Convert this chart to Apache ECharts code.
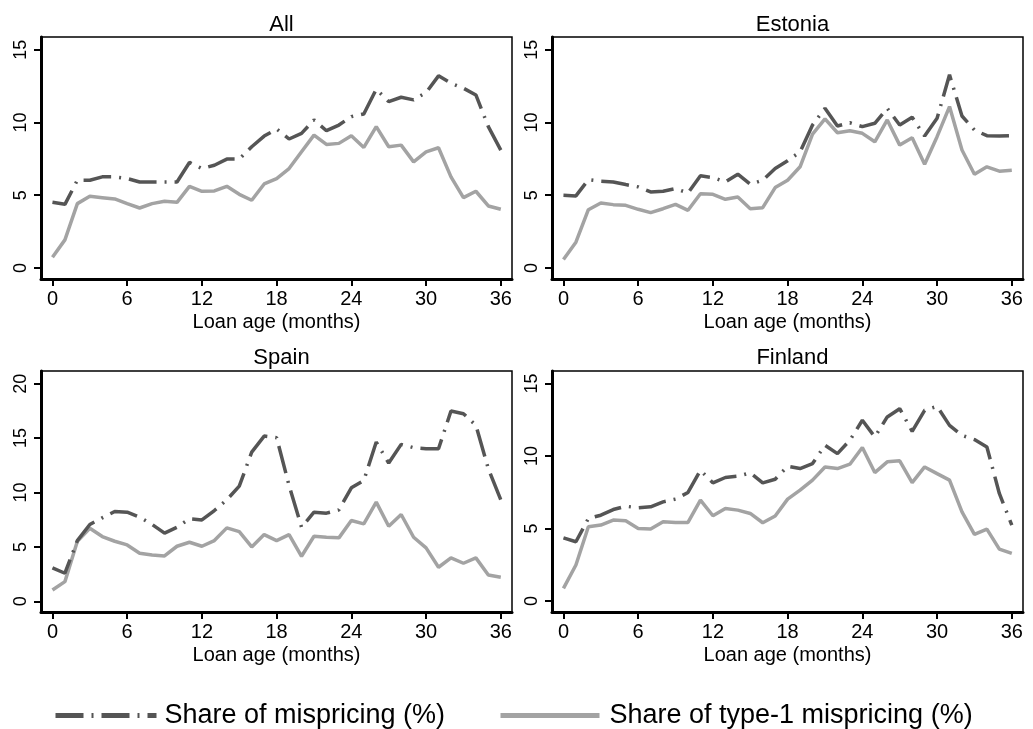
<!DOCTYPE html>
<html>
<head>
<meta charset="utf-8">
<script src="https://cdn.jsdelivr.net/npm/echarts@6/dist/echarts.min.js"></script>
<style>html,body{margin:0;padding:0;background:#fff}#c{width:1033px;height:729px}</style>
</head>
<body>
<div id="c"></div>
<script>
// Loan age in months
const months = [0,1,2,3,4,5,6,7,8,9,10,11,12,13,14,15,16,17,18,19,20,21,22,23,24,25,26,27,28,29,30,31,32,33,34,35,36];
// Panel titles
const panelTitles = ['All', 'Estonia', 'Spain', 'Finland'];
// Share of mispricing (%)
const allMis = [4.51,4.37,6.03,6.03,6.26,6.26,6.14,5.91,5.91,5.91,5.91,7.25,6.83,7.06,7.48,7.48,8.33,9.06,9.55,8.86,9.25,10.17,9.43,9.82,10.4,10.58,12.28,11.43,11.73,11.55,12.05,13.2,12.7,12.35,11.89,9.71,8.1];
const estMis = [4.99,4.95,6.07,5.96,5.91,5.73,5.57,5.22,5.27,5.45,5.15,6.33,6.21,5.91,6.44,5.75,6.03,6.83,7.36,7.98,9.82,10.97,9.75,9.98,9.71,9.94,10.97,9.82,10.35,9.06,10.28,13.27,10.44,9.48,9.09,9.06,9.09];
const espMis = [3.07,2.58,5.58,7.06,7.67,8.25,8.19,7.73,7.06,6.26,6.81,7.58,7.48,8.34,9.33,10.58,13.71,15.18,15.03,10.64,6.81,8.19,8.1,8.4,10.43,11.1,14.63,12.7,14.42,14.11,14.02,14.02,17.48,17.24,16.17,12.18,9.33];
const finMis = [4.36,4.09,5.69,5.92,6.31,6.54,6.43,6.5,6.84,7.03,7.49,9.02,8.15,8.52,8.61,8.84,8.15,8.4,9.3,9.14,9.48,10.75,10.17,11.09,12.47,11.32,12.7,13.27,11.71,13.16,13.43,12.12,11.43,11.14,10.63,7.42,5.24];
// Share of type-1 mispricing (%)
const allT1 = [0.74,1.93,4.42,4.92,4.83,4.74,4.42,4.12,4.42,4.58,4.51,5.61,5.27,5.29,5.61,5.06,4.65,5.77,6.14,6.83,7.98,9.13,8.49,8.56,9.09,8.28,9.71,8.33,8.44,7.29,7.98,8.26,6.26,4.83,5.27,4.26,4.03];
const estT1 = [0.58,1.77,4.0,4.46,4.35,4.3,4.03,3.8,4.07,4.37,3.96,5.1,5.06,4.72,4.88,4.07,4.14,5.52,6.03,6.95,9.2,10.24,9.29,9.43,9.25,8.67,10.17,8.44,8.95,7.13,9.02,11.09,8.1,6.44,6.95,6.65,6.72];
const espT1 = [1.04,1.81,5.52,6.72,5.95,5.52,5.18,4.42,4.26,4.17,5.06,5.43,5.06,5.58,6.75,6.41,5.0,6.13,5.58,6.13,4.14,5.98,5.89,5.83,7.42,7.12,9.11,6.9,7.98,5.89,4.91,3.13,3.99,3.5,3.99,2.42,2.21];
const finT1 = [0.87,2.48,5.12,5.24,5.58,5.53,5.01,4.96,5.47,5.42,5.42,6.96,5.88,6.38,6.27,6.04,5.4,5.86,7.03,7.65,8.34,9.25,9.14,9.44,10.59,8.86,9.6,9.67,8.17,9.25,8.79,8.34,6.15,4.59,4.96,3.58,3.28];
// Tick labels
const xTicks = [0,6,12,18,24,30,36];
const yTicks15 = [0,5,10,15];
const yTicks20 = [0,5,10,15,20];

const misName = 'Share of mispricing (%)';
const t1Name = 'Share of type-1 mispricing (%)';
const misSets = [allMis, estMis, espMis, finMis];
const t1Sets = [allT1, estT1, espT1, finT1];
const FONT = '"Liberation Sans", Arial, sans-serif';
const DARK = '#555555', GRAY = '#a3a3a3';

const gridPos = [
  {left: 41, top: 37, width: 471, height: 242},
  {left: 552, top: 37, width: 471, height: 242},
  {left: 41, top: 371, width: 471, height: 241},
  {left: 552, top: 371, width: 471, height: 241}
];
const yRanges = [[-0.76, 15.87], [-0.76, 15.87], [-0.98, 21.16], [-0.76, 15.87]];
const yTickSets = [yTicks15, yTicks15, yTicks20, yTicks15];
const titleTops = [9, 9, 342, 342];

const pair = (arr) => months.map((m, i) => [m, arr[i]]);

const option = {
  animation: false,
  backgroundColor: '#fff',
  textStyle: {fontFamily: FONT},
  title: panelTitles.map((t, i) => ({
    text: t,
    left: gridPos[i].left + gridPos[i].width / 2,
    top: titleTops[i],
    textAlign: 'center',
    textStyle: {fontFamily: FONT, fontSize: 22, fontWeight: 'normal', color: '#000'}
  })),
  grid: gridPos.map(g => Object.assign({show: true, borderColor: '#000', borderWidth: 1.5, backgroundColor: '#fff', containLabel: false}, g)),
  xAxis: gridPos.map((g, i) => ({
    type: 'value', gridIndex: i, min: -0.92, max: 36.9,
    name: 'Loan age (months)', nameLocation: 'middle', nameGap: 33,
    nameTextStyle: {fontFamily: FONT, fontSize: 20, color: '#000'},
    axisLine: {show: true, onZero: false, lineStyle: {color: '#000', width: 3}},
    axisTick: {show: true, length: 7, lineStyle: {color: '#000', width: 2}, customValues: xTicks},
    axisLabel: {fontFamily: FONT, fontSize: 20, color: '#000', margin: 10, customValues: xTicks},
    splitLine: {show: false}
  })),
  yAxis: gridPos.map((g, i) => ({
    type: 'value', gridIndex: i, min: yRanges[i][0], max: yRanges[i][1],
    axisLine: {show: true, onZero: false, lineStyle: {color: '#000', width: 3}},
    axisTick: {show: true, length: 7, lineStyle: {color: '#000', width: 2}, customValues: yTickSets[i]},
    axisLabel: {fontFamily: FONT, fontSize: 18, color: '#000', margin: 11, rotate: 90, customValues: yTickSets[i]},
    splitLine: {show: false}
  })),
  legend: [
    {data: [misName], left: 48, top: 697, itemWidth: 101, itemHeight: 20, itemGap: 0,
     itemStyle: {opacity: 0}, lineStyle: {width: 5, opacity: 1},
     textStyle: {fontFamily: FONT, fontSize: 27, color: '#000', padding: [0, 0, 0, 3]}},
    {data: [t1Name], left: 493, top: 697, itemWidth: 99, itemHeight: 20, itemGap: 0,
     itemStyle: {opacity: 0}, lineStyle: {width: 5, opacity: 1},
     textStyle: {fontFamily: FONT, fontSize: 27, color: '#000', padding: [0, 0, 0, 5]}}
  ],
  series: []
};

for (let i = 0; i < 4; i++) {
  option.series.push({
    name: misName, type: 'line', xAxisIndex: i, yAxisIndex: i,
    data: pair(misSets[i]), symbol: 'none', z: 3,
    lineStyle: {color: DARK, width: 3.5, type: [28, 8, 2, 8], cap: 'butt'},
    itemStyle: {color: DARK}
  });
  option.series.push({
    name: t1Name, type: 'line', xAxisIndex: i, yAxisIndex: i,
    data: pair(t1Sets[i]), symbol: 'none', z: 2,
    lineStyle: {color: GRAY, width: 3.5, type: 'solid'},
    itemStyle: {color: GRAY}
  });
}

const chart = echarts.init(document.getElementById('c'), null, {renderer: 'canvas'});
chart.setOption(option);
</script>
</body>
</html>
